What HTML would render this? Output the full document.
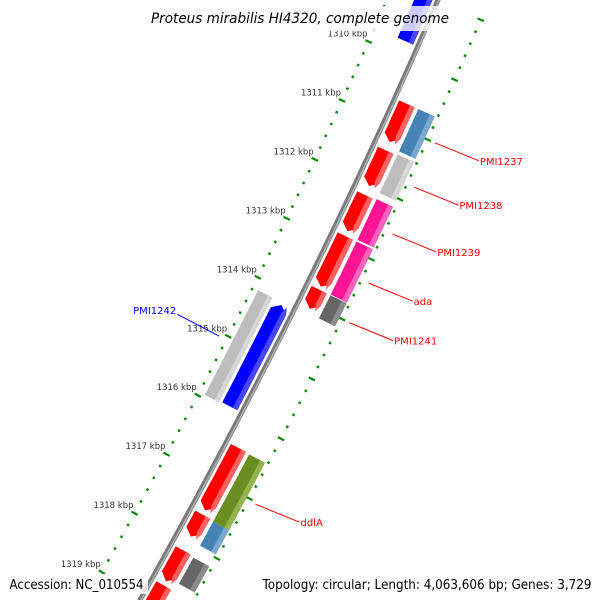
<!DOCTYPE html>
<html><head><meta charset="utf-8"><style>
html,body{margin:0;padding:0;background:#fff;width:600px;height:600px;overflow:hidden;}
svg{display:block;font-family:"DejaVu Sans","Liberation Sans",sans-serif;}
</style></head><body>
<svg id="map" width="600" height="600" viewBox="0 0 600 600" xmlns="http://www.w3.org/2000/svg">
<g id="ticks"></g>
<g id="backbone"></g>
<g id="features"></g>
<g id="labels"></g>
<rect x="147" y="6" width="306" height="25" fill="#fff" fill-opacity="0.8"/>
<text x="300" y="23" text-anchor="middle" font-size="14" font-style="italic" fill="#000" textLength="298" lengthAdjust="spacingAndGlyphs">Proteus mirabilis HI4320, complete genome</text>
<rect x="6" y="574" width="142" height="20" fill="#fff" fill-opacity="0.8"/>
<rect x="259" y="574" width="336" height="20" fill="#fff" fill-opacity="0.8"/>
<text x="9.5" y="589" font-size="13" fill="#000" textLength="134" lengthAdjust="spacingAndGlyphs">Accession: NC_010554</text>
<text x="262.5" y="589" font-size="13" fill="#000" textLength="329" lengthAdjust="spacingAndGlyphs">Topology: circular; Length: 4,063,606 bp; Genes: 3,729</text>
</svg>
<script>
// ---- data ----
const tickKbp = [1309,1310,1311,1312,1313,1314,1315,1316,1317,1318,1319,1320];
const tickLabels = ["1309 kbp","1310 kbp","1311 kbp","1312 kbp","1313 kbp","1314 kbp","1315 kbp","1316 kbp","1317 kbp","1318 kbp","1319 kbp","1320 kbp"];
const featStart = [1310.61,1311.39,1312.14,1312.83,1313.73,1316.39,1317.51,1318.11,1318.70,
                   1310.61,1311.37,1312.12,1312.83,1313.73,1316.40,1317.53,1318.13,
                   1308.95,1314.19,1314.15];
const featEnd   = [1311.30,1312.04,1312.80,1313.73,1314.10,1317.49,1317.93,1318.68,1319.40,
                   1311.37,1312.07,1312.85,1313.77,1314.17,1317.58,1317.98,1318.62,
                   1309.79,1315.95,1315.97];
const featRing  = [1,1,1,1,1,1,1,1,1, 2,2,2,2,2,2,2,2, -1,-1,-2];
const featType  = ["red","red","red","red","red","red","red","red","red",
                   "steel","silver","pink","pink","dgray","olive","steel","dgray",
                   "blue","blue","silver"];
const featArrow = [1,1,1,1,1,1,1,1,1, 0,0,0,0,0,0,0,0, 0,-1,0];
const labelText = ["PMI1237","PMI1238","PMI1239","ada","PMI1241","ddlA","PMI1242"];
const labelKbp  = [1311.0,1311.74,1312.52,1313.34,1314.0,1317.03,1315.06];
const labelSide = [1,1,1,1,1,1,-1];

// ---- geometry ----
const A=0.43,B=0.000111,X0=438;
function px(t){return X0-A*t-B*t*t;}
function normal(t){const s=A+2*B*t;const n=Math.hypot(1,s);return [1/n,s/n];}
function pt(t,r){const n=normal(t);return [px(t)+r*n[0], t+r*n[1]];}
function tOf(k){return 120+59.4*(k-1311);}
const ringR={1:[5,22],2:[26,44],"-1":[-22,-5],"-2":[-41,-25]};
const colors={red:["#ff0000","#ff6060"],steel:["#4682b4","#78a8d0"],silver:["#bdbdbd","#d6d6d6"],
  pink:["#ff1493","#ff62bd"],dgray:["#666666","#8a8a8a"],olive:["#6b8e23","#92b44e"],blue:["#0000ff","#4646ff"]};
const NS="http://www.w3.org/2000/svg";
function mk(tag,attrs,parent){const e=document.createElementNS(NS,tag);for(const k in attrs)e.setAttribute(k,attrs[k]);parent.appendChild(e);return e;}

const bb=document.getElementById('backbone');
let d1="",d2="";
for(let t=-20;t<=620;t+=5){const a=pt(t,0),b=pt(t,1);d1+=(t==-20?"M":"L")+a[0].toFixed(1)+","+a[1].toFixed(1);d2+=(t==-20?"M":"L")+b[0].toFixed(1)+","+b[1].toFixed(1);}
const bl1=mk('path',{d:d1,stroke:"#7a7a7a","stroke-width":5,fill:"none"},bb);


const bl2=mk('path',{d:d2,stroke:"#b0b0b0","stroke-width":1.5,fill:"none"},bb);



const tg=document.getElementById('ticks');
for(let i=0;i<tickKbp.length;i++){
  for(let m=0;m<5;m++){
    const t=tOf(tickKbp[i]+m*0.2);
    if(t<-10||t>610)continue;
    [1,-1].forEach(side=>{
      const len=m==0?7:2.5;
      const a=pt(t,side*(47-len/2)),b=pt(t,side*(47+len/2));
      const l=mk('line',{x1:a[0],y1:a[1],x2:b[0],y2:b[1],stroke:"#0a8a0a","stroke-width":m==0?2.2:2.5},tg);
      
      
    });
  }
  const t=tOf(tickKbp[i]);
  if(t<20||t>600)continue;
  const p=pt(t,-47);
  const tx=mk('text',{x:(p[0]-1).toFixed(1),y:(p[1]-5).toFixed(1),"text-anchor":"end","font-size":"8.5",fill:"#333"},tg);
  tx.textContent=tickLabels[i];
  
  
}

const fg=document.getElementById('features');
function band(t1,t2,r1,r2,arrow){
  const pts=[];const h=6;const rm=(r1+r2)/2;
  let a1=t1,a2=t2;
  if(arrow==1)a2=t2-h; if(arrow==-1)a1=t1+h;
  const steps=8;
  for(let s=0;s<=steps;s++){pts.push(pt(a1+(a2-a1)*s/steps,r1));}
  if(arrow==1)pts.push(pt(t2,rm));
  for(let s=steps;s>=0;s--){pts.push(pt(a1+(a2-a1)*s/steps,r2));}
  if(arrow==-1)pts.push(pt(t1,rm));
  return pts.map(p=>p[0].toFixed(1)+","+p[1].toFixed(1)).join(" ");
}
for(let i=0;i<featStart.length;i++){
  const t1=tOf(featStart[i])+1.5,t2=tOf(featEnd[i])-1.5;
  const rr=ringR[featRing[i]];const c=colors[featType[i]];
  const g=mk('g',{},fg);
  
  
  mk('polygon',{points:band(t1,t2,rr[0],rr[1],featArrow[i]),fill:c[0]},g);
  const w=rr[1]-rr[0];
  const hi=mk('polygon',{points:band(t1,t2,rr[0]+w*0.7,rr[1],featArrow[i]),fill:c[1]},g);
  
  
}

const lg=document.getElementById('labels');
for(let i=0;i<labelText.length;i++){
  const t=tOf(labelKbp[i]);const s=labelSide[i];
  const a=pt(t,s*55);
  const col=s>0?"#ff0000":"#0000ff";
  const b=s>0?[a[0]+44,a[1]+18]:[a[0]-42,a[1]-22];
  const l=mk('line',{x1:a[0],y1:a[1],x2:b[0],y2:b[1],stroke:col,"stroke-width":1},lg);
  
  
  const tx=mk('text',{x:s>0?b[0]+1:b[0]-1,y:s>0?b[1]+4:b[1],"text-anchor":s>0?"start":"end","font-size":"10",fill:col},lg);
  tx.textContent=labelText[i];
  
  
}
</script>
</body></html>
